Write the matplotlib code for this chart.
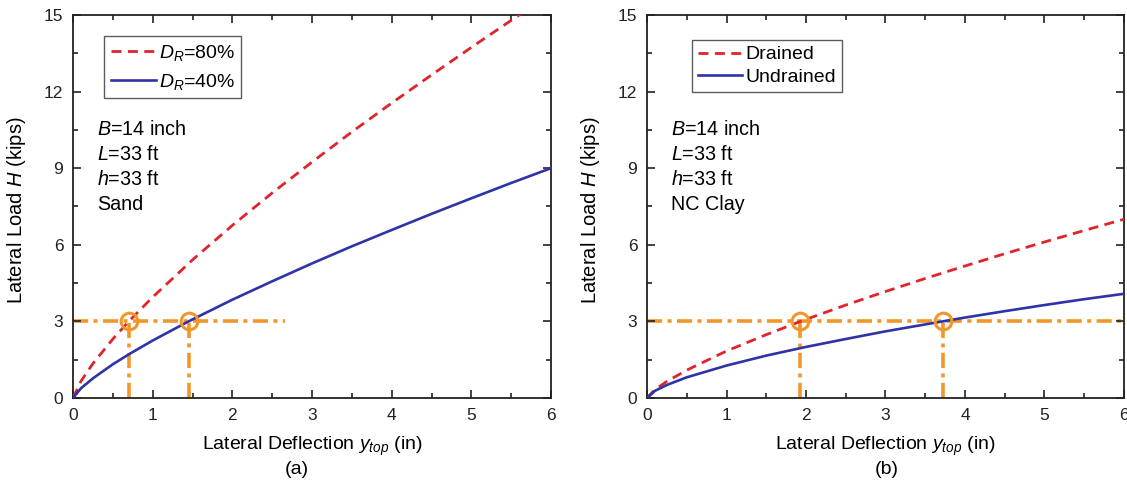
import numpy as np
import matplotlib.pyplot as plt
from matplotlib.ticker import MultipleLocator

plt.rcParams['font.family'] = ['Liberation Sans', 'DejaVu Sans']
plt.rcParams['mathtext.fontset'] = 'custom'
plt.rcParams['mathtext.rm'] = 'Liberation Sans'
plt.rcParams['mathtext.it'] = 'Liberation Sans:italic'

# (a) sand, two relative densities
sand_x80 = [0, 0.1, 0.25, 0.5, 0.7, 1, 1.5, 2, 2.5, 3, 3.5, 4, 4.5, 5, 5.6, 5.8]
sand_h80 = [0, 0.66, 1.35, 2.31, 3.0, 3.95, 5.41, 6.76, 8.03, 9.24, 10.42, 11.55, 12.65, 13.73, 15.0, 15.4]
sand_x40 = [0, 0.1, 0.25, 0.5, 0.7, 1, 1.45, 2, 2.5, 3, 3.5, 4, 4.5, 5, 5.5, 6]
sand_h40 = [0, 0.38, 0.77, 1.32, 1.71, 2.25, 3.0, 3.85, 4.57, 5.27, 5.94, 6.58, 7.21, 7.82, 8.42, 9.0]
sand_hit = [0.7, 1.45]

# (b) NC clay, drained / undrained
clay_xd = [0, 0.1, 0.25, 0.5, 1, 1.5, 1.93, 2.5, 3, 3.5, 4, 4.5, 5, 5.5, 6]
clay_hd = [0, 0.33, 0.65, 1.09, 1.84, 2.48, 3.0, 3.64, 4.17, 4.68, 5.17, 5.65, 6.11, 6.56, 7.0]
clay_xu = [0, 0.1, 0.25, 0.5, 1, 1.5, 2, 2.5, 3, 3.72, 4, 4.5, 5, 5.5, 6]
clay_hu = [0, 0.28, 0.51, 0.81, 1.27, 1.66, 2.0, 2.31, 2.61, 3.0, 3.15, 3.40, 3.64, 3.87, 4.08]
clay_hit = [1.93, 3.72]

H_ref = 3
red = '#E0242B'
blue = '#2E33A8'
orange = '#F0962A'
dashdot = (0, (4.2, 1.5, 1.1, 1.5))
dashed = (0, (3.6, 2.3))

fig = plt.figure(figsize=(11.27, 4.83), dpi=100)
ax1 = fig.add_axes([0.0648, 0.176, 0.4241, 0.793])
ax2 = fig.add_axes([0.5741, 0.176, 0.4232, 0.793])


def style_axes(ax):
    ax.set_xlim(0, 6)
    ax.set_ylim(0, 15)
    ax.xaxis.set_major_locator(MultipleLocator(1))
    ax.xaxis.set_minor_locator(MultipleLocator(0.5))
    ax.yaxis.set_major_locator(MultipleLocator(3))
    ax.yaxis.set_minor_locator(MultipleLocator(1.5))
    ax.tick_params(which='both', direction='in', top=True, right=True,
                   labelsize=12.5, width=1.2, colors='#222222')
    ax.tick_params(which='major', length=6, pad=7)
    ax.tick_params(which='minor', length=3.5)
    for s in ax.spines.values():
        s.set_linewidth(1.3)
        s.set_color('#222222')
    ax.set_ylabel('Lateral Load $H$ (kips)', fontsize=14.5)
    ax.yaxis.set_label_coords(-0.095, 0.49)


def orange_guides(ax, hits, x_end):
    ax.plot([0, x_end], [H_ref, H_ref], color=orange, lw=2.6,
            linestyle=dashdot, zorder=1)
    for xh in hits:
        ax.plot([xh, xh], [0, H_ref], color=orange, lw=2.6,
                linestyle=dashdot, zorder=1)
    ax.plot(hits, [H_ref] * len(hits), 'o', ms=12, mfc='none',
            mec=orange, mew=2.2, zorder=4, clip_on=False)


def params_text(ax, soil):
    ax.text(0.3, 10.88, '$B$=14 inch\n$L$=33 ft\n$h$=33 ft\n' + soil,
            fontsize=14.2, va='top', linespacing=1.39)


# (a)
orange_guides(ax1, sand_hit, 2.66)
ax1.plot(sand_x80, sand_h80, color=red, lw=2.0, linestyle=dashed,
         label='$D_R$=80%', zorder=3)
ax1.plot(sand_x40, sand_h40, color=blue, lw=1.9, label='$D_R$=40%', zorder=3)
style_axes(ax1)
leg = ax1.legend(loc='upper left', bbox_to_anchor=(0.065, 0.945), fontsize=14,
                 frameon=True, fancybox=False, edgecolor='#333333',
                 handlelength=2.3, handletextpad=0.15, borderpad=0.35,
                 labelspacing=0.45, borderaxespad=0)
leg.get_frame().set_linewidth(1.0)
params_text(ax1, 'Sand')
ax1.set_xlabel('Lateral Deflection $y_{top}$ (in)', fontsize=14, labelpad=9)
ax1.text(0.469, -0.165, '(a)', transform=ax1.transAxes, fontsize=14,
         ha='center', va='top')

# (b)
orange_guides(ax2, clay_hit, 6)
ax2.plot(clay_xd, clay_hd, color=red, lw=2.0, linestyle=dashed,
         label='Drained', zorder=3)
ax2.plot(clay_xu, clay_hu, color=blue, lw=1.9, label='Undrained', zorder=3)
style_axes(ax2)
leg = ax2.legend(loc='upper left', bbox_to_anchor=(0.094, 0.935), fontsize=14,
                 frameon=True, fancybox=False, edgecolor='#333333',
                 handlelength=2.3, handletextpad=0.15, borderpad=0.3,
                 labelspacing=0.25, borderaxespad=0)
leg.get_frame().set_linewidth(1.0)
params_text(ax2, 'NC Clay')
ax2.set_xlabel('Lateral Deflection $y_{top}$ (in)', fontsize=14, labelpad=9)
ax2.text(0.503, -0.165, '(b)', transform=ax2.transAxes, fontsize=14,
         ha='center', va='top')

fig.savefig('out.png', dpi=100)
